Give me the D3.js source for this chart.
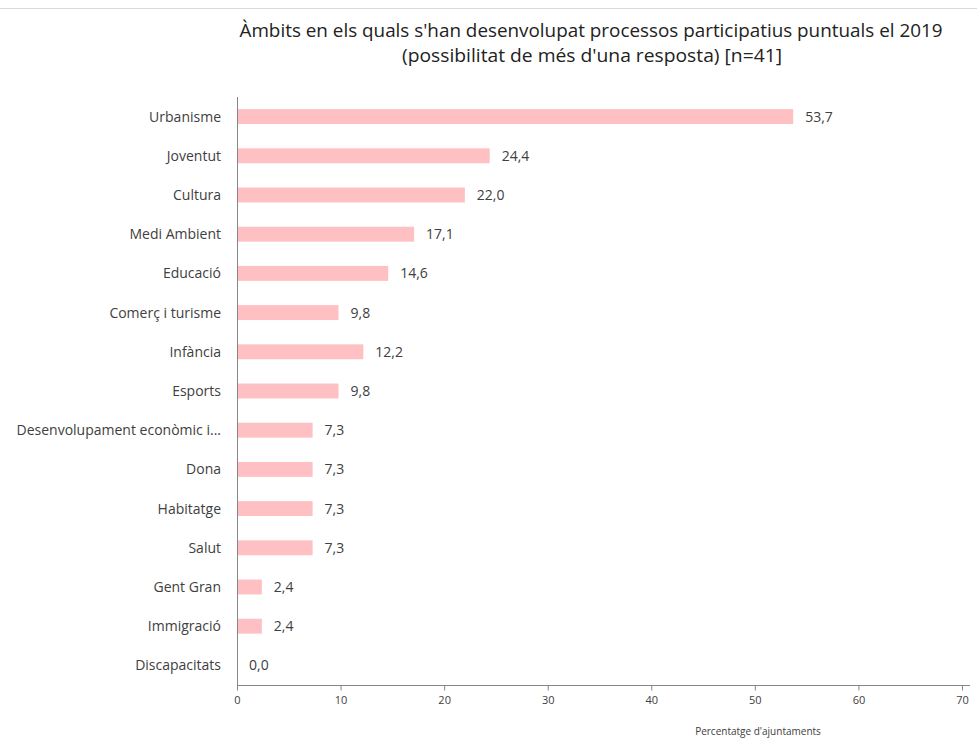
<!DOCTYPE html>
<html>
<head>
<meta charset="utf-8">
<script src="https://cdn.jsdelivr.net/npm/d3@7"></script>
<style>
  body { margin: 0; background: #fff; }
  svg { display: block; }
  text { font-family: "Open Sans", sans-serif; }
</style>
</head>
<body>
<script>
var categories = ["Urbanisme", "Joventut", "Cultura", "Medi Ambient", "Educació", "Comerç i turisme",
  "Infància", "Esports", "Desenvolupament econòmic i...", "Dona", "Habitatge", "Salut",
  "Gent Gran", "Immigració", "Discapacitats"];
var values = [53.7, 24.4, 22.0, 17.1, 14.6, 9.8, 12.2, 9.8, 7.3, 7.3, 7.3, 7.3, 2.4, 2.4, 0.0];
var xTicks = [0, 10, 20, 30, 40, 50, 60, 70];

var W = 977, H = 738;
var margin = {top: 97, right: 15, bottom: 53, left: 237};

var svg = d3.select("body").append("svg")
    .attr("width", W)
    .attr("height", H);

// thin gray line on top of the screenshot
svg.append("line")
    .attr("x1", 0).attr("x2", W)
    .attr("y1", 8.5).attr("y2", 8.5)
    .attr("stroke", "#d9d9d9");

svg.append("text")
    .attr("x", 591).attr("y", 37)
    .attr("text-anchor", "middle")
    .attr("font-size", 18)
    .attr("fill", "#222")
    .attr("textLength", 703)
    .attr("lengthAdjust", "spacingAndGlyphs")
    .text("Àmbits en els quals s'han desenvolupat processos participatius puntuals el 2019");
svg.append("text")
    .attr("x", 592).attr("y", 62)
    .attr("text-anchor", "middle")
    .attr("font-size", 18)
    .attr("fill", "#222")
    .attr("textLength", 380)
    .attr("lengthAdjust", "spacingAndGlyphs")
    .text("(possibilitat de més d'una resposta)  [n=41]");

var x = d3.scaleLinear()
    .domain([0, 70])
    .range([margin.left, 962]);

var y = d3.scaleBand()
    .domain(categories)
    .range([margin.top, H - margin.bottom])
    .paddingInner(0.62)
    .paddingOuter(0.31);

var g = svg.append("g");

g.selectAll("rect")
    .data(values)
    .enter().append("rect")
    .attr("x", x(0))
    .attr("y", function(d, i) { return y(categories[i]); })
    .attr("width", function(d) { return x(d) - x(0); })
    .attr("height", y.bandwidth())
    .attr("fill", "#ffc0c3");

g.selectAll("text.val")
    .data(values)
    .enter().append("text")
    .attr("class", "val")
    .attr("x", function(d) { return x(d) + 12; })
    .attr("y", function(d, i) { return y(categories[i]) + y.bandwidth() / 2; })
    .attr("dy", "0.35em")
    .attr("font-size", 14)
    .attr("fill", "#404040")
    .text(function(d) { return d.toFixed(1).replace(".", ","); });

// category axis
g.selectAll("text.cat")
    .data(categories)
    .enter().append("text")
    .attr("class", "cat")
    .attr("x", margin.left - 16)
    .attr("y", function(d) { return y(d) + y.bandwidth() / 2; })
    .attr("dy", "0.35em")
    .attr("text-anchor", "end")
    .attr("font-size", 14)
    .attr("fill", "#404040")
    .text(function(d) { return d; });

svg.append("line")
    .attr("x1", margin.left + 0.5).attr("x2", margin.left + 0.5)
    .attr("y1", margin.top).attr("y2", H - margin.bottom)
    .attr("stroke", "#868686");

var xAxis = svg.append("g")
    .attr("transform", "translate(0," + (H - margin.bottom + 0.5) + ")")
    .call(d3.axisBottom(x).tickValues(xTicks).tickSize(5).tickPadding(6).tickSizeOuter(0));
xAxis.select(".domain").attr("stroke", "#868686").attr("d", "M" + margin.left + ",0H970");
xAxis.selectAll(".tick line").attr("stroke", "#868686");
xAxis.selectAll(".tick text")
    .attr("font-size", 11)
    .attr("fill", "#404040")
    .style("font-family", "'Open Sans', sans-serif");

svg.append("text")
    .attr("x", 758).attr("y", 735)
    .attr("text-anchor", "middle")
    .attr("font-size", 10)
    .attr("fill", "#404040")
    .text("Percentatge d'ajuntaments");
</script>
</body>
</html>
